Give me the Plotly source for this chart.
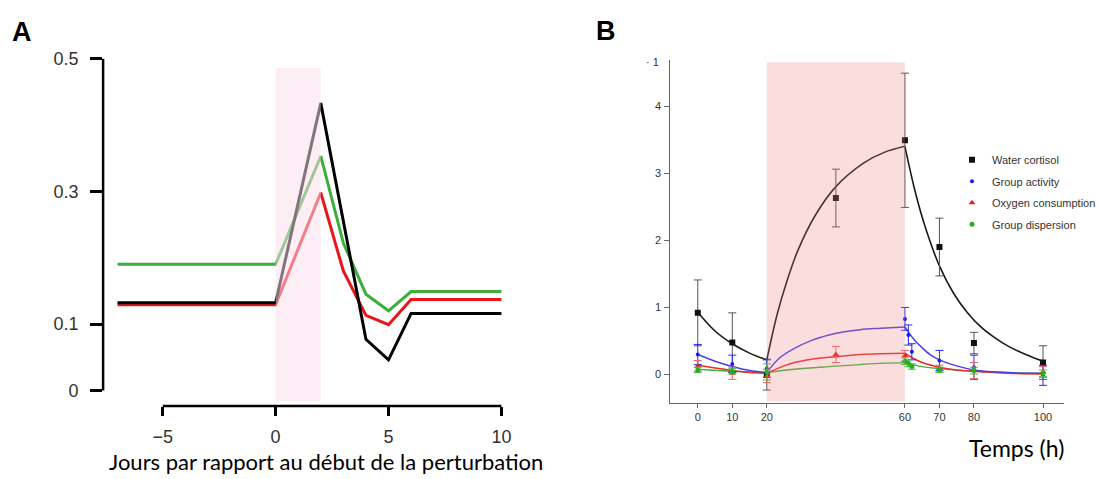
import plotly.graph_objects as go

W, H = 1101, 479

# ---------------- Panel A data ----------------
days = [-7, 0, 2, 3, 4, 5, 6, 10]
a_black = [0.132, 0.132, 0.433, 0.255, 0.077, 0.046, 0.116, 0.116]
a_red = [0.129, 0.129, 0.298, 0.180, 0.113, 0.099, 0.137, 0.137]
a_green = [0.190, 0.190, 0.353, 0.222, 0.145, 0.120, 0.149, 0.149]
a_xticks = [-5, 0, 5, 10]
a_xticklabels = ["\u22125", "0", "5", "10"]
a_yticks = [0, 0.1, 0.3, 0.5]
a_yticklabels = ["0", "0.1", "0.3", "0.5"]
a_perturb = [0, 2]

# ---------------- Panel B data ----------------
cort_x = [0, 10, 20, 40, 60, 70, 80, 100]
cort_y = [0.92, 0.48, 0.0, 2.63, 3.49, 1.90, 0.47, 0.18]
cort_e = [0.49, 0.44, 0.23, 0.43, 1.00, 0.43, 0.16, 0.25]

act_x = [0, 10, 20, 60, 61, 62, 70, 80, 100]
act_y = [0.30, 0.16, 0.09, 0.83, 0.59, 0.34, 0.21, 0.11, -0.01]
act_e = [0.15, 0.13, 0.13, 0.17, 0.15, 0.12, 0.15, 0.18, 0.15]

oxy_x = [0, 10, 20, 40, 60, 70, 80, 100]
oxy_y = [0.13, 0.02, -0.02, 0.30, 0.28, 0.09, 0.06, 0.04]
oxy_e = [0.08, 0.09, 0.10, 0.12, 0.08, 0.05, 0.12, 0.08]

disp_x = [0, 10, 20, 60, 61, 62, 70, 80, 100]
disp_y = [0.07, 0.05, 0.04, 0.20, 0.17, 0.12, 0.07, 0.06, 0.02]
disp_e = [0.04, 0.04, 0.12, 0.05, 0.05, 0.04, 0.04, 0.05, 0.05]

# fitted curves (None separates the three phases)
cort_fit_x = [0, 5, 10, 15, 20, None, 20, 23, 26, 29, 34, 40, 48, 54, 60,
              None, 60, 63, 66, 70, 74, 78, 82, 86, 90, 95, 100]
cort_fit_y = [0.93, 0.65, 0.46, 0.32, 0.22, None, 0.22, 0.90, 1.42, 1.85, 2.37, 2.80, 3.15, 3.31, 3.40,
              None, 3.40, 2.72, 2.18, 1.62, 1.22, 0.93, 0.71, 0.55, 0.42, 0.30, 0.20]
act_fit_x = [0, 5, 10, 15, 20, None, 20, 23.5, 28, 33, 38, 42.5, 47, 53, 60,
             None, 60, 62.5, 65, 67.5, 70, 75, 80, 90, 100]
act_fit_y = [0.30, 0.20, 0.12, 0.06, 0.03, None, 0.03, 0.24, 0.39, 0.51, 0.59, 0.64, 0.67, 0.69, 0.71,
             None, 0.71, 0.53, 0.40, 0.29, 0.22, 0.13, 0.07, 0.03, 0.02]
oxy_fit_x = [0, 5, 10, 15, 20, None, 20, 25, 28, 33, 38, 43, 47, 53, 60,
             None, 60, 62.5, 65, 70, 75, 80, 90, 100]
oxy_fit_y = [0.14, 0.10, 0.06, 0.03, 0.02, None, 0.02, 0.13, 0.18, 0.23, 0.26, 0.28, 0.30, 0.31, 0.32,
             None, 0.32, 0.24, 0.18, 0.11, 0.07, 0.05, 0.02, 0.01]
disp_fit_x = [0, 10, 20, None, 20, 28, 38, 47, 54, 60, None, 60, 65, 70, 80, 90, 100]
disp_fit_y = [0.08, 0.05, 0.03, None, 0.03, 0.08, 0.12, 0.15, 0.17, 0.18, None, 0.18, 0.12, 0.09, 0.05, 0.03, 0.02]

b_xticks = [0, 10, 20, 60, 70, 80, 100]
b_yticks = [0, 1, 2, 3, 4]
b_stress = [20, 60]

fig = go.Figure()

# Panel A lines
for ys, col in [(a_green, "#3cae3c"), (a_red, "#e8161b"), (a_black, "#000000")]:
    fig.add_trace(go.Scatter(x=days, y=ys, mode="lines", line=dict(color=col, width=3),
                             xaxis="x", yaxis="y", showlegend=False, hoverinfo="skip"))

# Panel B fitted curves
for fx, fy, col, w in [(disp_fit_x, disp_fit_y, "#3cb43c", 1.3),
                       (oxy_fit_x, oxy_fit_y, "#ee2a2a", 1.5),
                       (act_fit_x, act_fit_y, "#4a40e6", 1.5),
                       (cort_fit_x, cort_fit_y, "#1a1a1a", 1.6)]:
    fig.add_trace(go.Scatter(x=fx, y=fy, mode="lines", line=dict(color=col, width=w, shape="spline", smoothing=1.0),
                             connectgaps=False, xaxis="x2", yaxis="y2", showlegend=False, hoverinfo="skip"))

# Panel B points with error bars
series = [
    ("Water cortisol", cort_x, cort_y, cort_e, "#111111", "#555555", "square", 6, 1),
    ("Group activity", act_x, act_y, act_e, "#1a1aff", "#2a2aee", "circle", 4, 2),
    ("Oxygen consumption", oxy_x, oxy_y, oxy_e, "#ee1c1c", "#f06060", "triangle-up", 6, 3),
    ("Group dispersion", disp_x, disp_y, disp_e, "#22b022", "#40c040", "circle", 5, 4),
]
for name, sx, sy, se, mc, ec, sym, sz, grp in series:
    fig.add_trace(go.Scatter(
        x=sx, y=sy, mode="markers", name=name,
        marker=dict(color=mc, symbol=sym, size=sz),
        error_y=dict(type="data", array=se, visible=True, color=ec, thickness=1, width=4),
        xaxis="x2", yaxis="y2", legendgroup=str(grp), hoverinfo="skip"))

font_ax = "Liberation Sans, Arial, sans-serif"
font_title = "Lato, Open Sans, sans-serif"

shapes = [
    # Panel A perturbation window (drawn over the lines, semi-transparent)
    dict(type="rect", xref="x", yref="y", x0=a_perturb[0], x1=a_perturb[1], y0=-0.016, y1=0.486,
         fillcolor="rgba(252,222,236,0.52)", line=dict(width=0), layer="above"),
    # Panel A detached axis lines
    dict(type="line", xref="x", yref="y domain", x0=-5, x1=10, y0=0, y1=0,
         line=dict(color="black", width=2.5)),
    dict(type="line", xref="x domain", yref="y", x0=0, x1=0, y0=0, y1=0.5,
         line=dict(color="black", width=2.5)),
    # Panel B stress window
    dict(type="rect", xref="x2", yref="y2", x0=b_stress[0], x1=b_stress[1], y0=-0.40, y1=4.65,
         fillcolor="rgba(236,128,128,0.26)", line=dict(width=0), layer="above"),
]

annotations = [
    dict(text="<b>A</b>", x=22 / W, y=1 - 26 / H, xref="paper", yref="paper", showarrow=False,
         font=dict(family=font_ax, size=27, color="black"), xanchor="center", yanchor="middle"),
    dict(text="<b>B</b>", x=617 / W, y=1 - 25 / H, xref="paper", yref="paper", showarrow=False,
         font=dict(family=font_ax, size=27, color="black"), xanchor="center", yanchor="middle"),
    dict(text="Jours par rapport au début de la perturbation", x=332 / W, y=1 - 461 / H,
         xref="paper", yref="paper", showarrow=False, xanchor="center", yanchor="middle",
         font=dict(family=font_title, size=22, color="black")),
    dict(text="Temps (h)", x=1035 / W, y=1 - 448 / H, xref="paper", yref="paper", showarrow=False,
         xanchor="center", yanchor="middle", font=dict(family=font_title, size=23, color="black")),
    dict(text="\u00b7 1", x=673 / W, y=1 - 57 / H, xref="paper", yref="paper", showarrow=False,
         xanchor="right", yanchor="middle", font=dict(family=font_ax, size=11, color="#333")),
]

fig.update_layout(
    width=W, height=H, margin=dict(l=0, r=0, t=0, b=0),
    paper_bgcolor="white", plot_bgcolor="rgba(0,0,0,0)",
    shapes=shapes, annotations=annotations,
    xaxis=dict(domain=[105 / W, 526 / W], range=[-7.64, 10.665], anchor="y",
               tickvals=a_xticks, ticktext=a_xticklabels, ticks="outside", ticklen=9, tickwidth=2.5,
               tickcolor="black", showline=False, showgrid=False, zeroline=False,
               tickfont=dict(family=font_ax, size=18, color="#333"), ticklabelstandoff=5),
    yaxis=dict(domain=[1 - 405 / H, 1 - 50 / H], range=[-0.0234, 0.505], anchor="x",
               tickvals=a_yticks, ticktext=a_yticklabels, ticks="outside", ticklen=12, tickwidth=2.5,
               tickcolor="black", showline=False, showgrid=False, zeroline=False,
               tickfont=dict(family=font_ax, size=18, color="#333"), ticklabelstandoff=8),
    xaxis2=dict(domain=[682.7 / W, 1084 / W], range=[-7.96, 106.17], anchor="y2",
                tickvals=b_xticks, ticks="outside", ticklen=4, tickcolor="#666", tickwidth=1,
                showline=True, linecolor="#666", linewidth=1, showgrid=False, zeroline=False,
                tickfont=dict(family=font_ax, size=11, color="#333")),
    yaxis2=dict(domain=[1 - 401.7 / H, 1 - 55 / H], range=[-0.4176, 4.681], anchor="x2",
                tickvals=b_yticks, ticks="outside", ticklen=5, tickcolor="#666", tickwidth=1,
                showline=True, linecolor="#666", linewidth=1, showgrid=False, zeroline=False,
                tickfont=dict(family=font_ax, size=11, color="#333"), ticklabelstandoff=1),
    legend=dict(x=970 / W, y=1 - 141 / H, xanchor="left", yanchor="top", bgcolor="rgba(0,0,0,0)",
                font=dict(family=font_ax, size=11, color="#333"), tracegroupgap=2.5, traceorder="grouped"),
)

fig.write_html("out.html")
